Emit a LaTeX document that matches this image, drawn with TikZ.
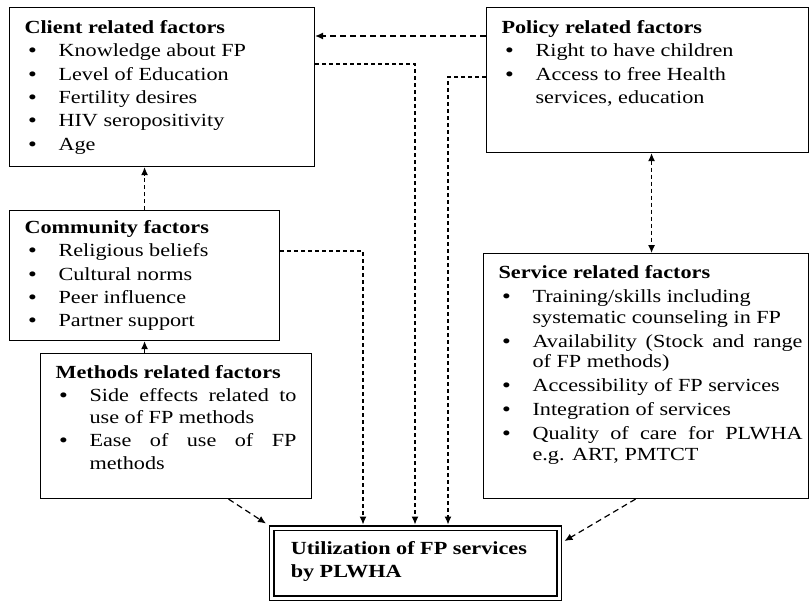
\documentclass[tikz,border=0pt]{standalone}
\usepackage{fontspec}
\setmainfont{Liberation Serif}[FakeStretch=1.2]
\usetikzlibrary{arrows.meta}

% box contents: width, height, text
\newcommand{\fbody}[3]{\parbox[c][#2pt][t]{#1pt}{\raggedright\leftskip=15pt\fontsize{18.5}{23.3}\selectfont #3}}
\newcommand{\ftitle}[2][25pt]{\rule{0pt}{#1}\textbf{#2}\par}
\newcommand{\fitem}[1]{\hangindent=34pt\hangafter=1\noindent\makebox[34pt][l]{\hspace{4pt}\textbf{\textbullet}}#1\par}

\tikzset{
  factor/.style={draw, line width=1.1pt, anchor=north west, inner sep=0pt},
  flow/.style={line width=1.2pt, dash pattern=on 4pt off 3pt, -{Latex[length=8pt,width=7pt]}},
}

\begin{document}
\begin{tikzpicture}[x=1pt, y=-1pt]
            \useasboundingbox (0, 0) rectangle (811, 600);
            \node[factor] (client) at (9, 7) {\fbody{305}{159}{%
                \ftitle[26pt]{Client related factors}
                \fitem{Knowledge about FP}
                \fitem{Level of Education}
                \fitem{Fertility desires}
                \fitem{HIV seropositivity}
                \fitem{Age}}};
            \node[factor] (policy) at (486, 7) {\fbody{322}{145}{%
                \ftitle[26pt]{Policy related factors}
                \fitem{Right to have children}
                \fitem{Access to free Health\newline services, education}}};
            \node[factor] (community) at (9, 210) {\fbody{270}{130}{%
                \ftitle[23pt]{Community factors}
                \fitem{Religious beliefs}
                \fitem{Cultural norms}
                \fitem{Peer influence}
                \fitem{Partner support}}};
            \node[factor] (methods) at (40, 353) {\fbody{271}{145}{\baselineskip=22.7pt
                \ftitle{Methods related factors}
                \fitem{\makebox[207pt][s]{Side effects related to}\newline use of FP methods}
                \fitem{\makebox[207pt][s]{Ease of use of FP}\newline methods}}};
            \node[factor] (service) at (483, 253) {\fbody{325}{245}{\baselineskip=20.5pt\parskip=3.5pt
                \ftitle{Service related factors}
                \fitem{Training/skills including\newline systematic counseling in FP}
                \fitem{\makebox[270pt][s]{Availability (Stock and range}\newline of FP methods)}
                \fitem{Accessibility of FP services}
                \fitem{Integration of services}
                \fitem{\makebox[270pt][s]{Quality of care for PLWHA}\newline e.g. ART, PMTCT}}};
            \node[factor, line width=1.5pt, double, double distance=3pt] (util) at (271, 527.5) {\fbody{287.5}{70}{\leftskip=19pt\baselineskip=23pt
                \ftitle[26.5pt]{Utilization of FP services}
                \textbf{by PLWHA}}};
            % bend points of the long dashed lines
            \coordinate (ptop) at (0, 36);
            \coordinate (cbend) at (415, 64);
            \coordinate (pbend) at (448, 77);
            \coordinate (mbend) at (363, 251);
            \draw[flow, dash pattern=on 6pt off 4pt] (policy.west |- ptop) -- (client.east |- ptop);
            \draw[flow, shorten >=3pt] (client.east |- cbend) -- (cbend) -- (util.north -| cbend);
            \draw[flow, shorten >=3pt] (policy.west |- pbend) -- (pbend) -- (util.north -| pbend);
            \draw[flow, shorten >=3pt] (community.east |- mbend) -- (mbend) -- (util.north -| mbend);
            \draw[flow] (community.north) -- (client.south -| community.north);
            \draw[flow] (methods.north -| community.north) -- (community.south);
            \draw[flow, dash pattern=on 6pt off 4pt] ([xshift=52.5pt]methods.south) -- ([shift={(-5pt,4pt)}]util.north west);
            \draw[flow, dash pattern=on 6pt off 4pt] ([xshift=-10.5pt]service.south) -- ([shift={(4.5pt,-13.5pt)}]util.north east);
            \draw[flow, {Latex[length=8pt,width=7pt]}-{Latex[length=8pt,width=7pt]}] ([xshift=4pt]policy.south) -- ([xshift=4pt]policy.south |- service.north);
        \end{tikzpicture}
\end{document}
